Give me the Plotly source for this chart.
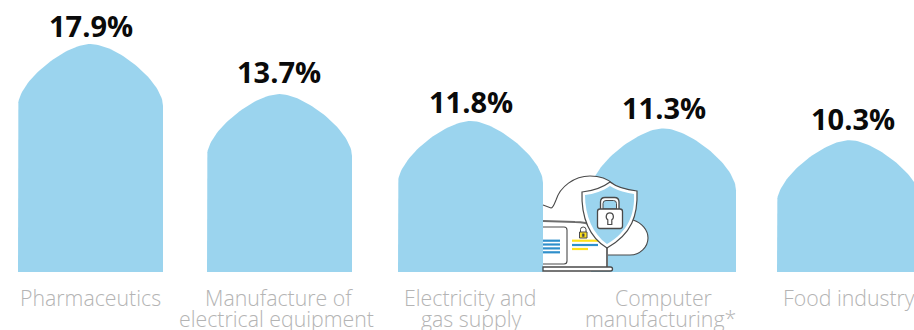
import numpy as np
import plotly.graph_objects as go

# --- data ---
label_line1 = ["Pharmaceutics", "Manufacture of", "Electricity and", "Computer", "Food industry"]
label_line2 = ["", "electrical equipment", "gas supply", "manufacturing*", ""]
shares = [17.9, 13.7, 11.8, 11.3, 10.3]
bar_heights = [17.81, 13.9, 11.8, 11.22, 10.3]   # drawn height of each dome, as read

# --- layout constants (pixels on the 914x330 page) ---
W, H = 914, 330
BASE_PX = 272
PX_PER_UNIT = 12.8
BAR_W = 145
bar_left = [18, 207, 398, 591, 777]
value_x = [91, 279, 471, 664, 853]
value_y = [25, 71, 101, 107, 118]
label1_x = [90.5, 279, 470, 663.5, 848.5]
label2_x = [90.5, 276.5, 470.5, 660.5, 848.5]
LINE1_Y, LINE2_Y = 297.5, 318.5
DOME_UNITS = 62 / PX_PER_UNIT
BLUE = "#9BD4EE"
INK = "#4a4a4a"
YELLOW = "#FFE11A"
ICON_BLUE = "#2F8FCB"

def dome(left, height):
    """Outline of one bar: straight sides, curved top, in data units."""
    a = BAR_W / 2
    t = np.linspace(0, 1, 40)
    bx = 3 * (1 - t) * t**2 * (a * 0.65) + t**3 * a
    by = 3 * (1 - t)**2 * t * 0.40 + 3 * (1 - t) * t**2 + t**3
    xs = left + bx
    ys = height - DOME_UNITS + by * DOME_UNITS
    x = [left] + list(xs) + list((left + BAR_W - bx)[::-1]) + [left + BAR_W, left]
    y = [0] + list(ys) + list(ys[::-1]) + [0, 0]
    return x, y

fig = go.Figure()
for name, left, h in zip(label_line1, bar_left, bar_heights):
    x, y = dome(left, h)
    fig.add_trace(go.Scatter(x=x, y=y, mode="lines", fill="toself", fillcolor=BLUE,
                             line=dict(width=0, color=BLUE), name=name, hoverinfo="skip",
                             showlegend=False, xaxis="x", yaxis="y"))

# helper trace so the overlay axes exist
fig.add_trace(go.Scatter(x=[0], y=[0], mode="markers", marker=dict(opacity=0, size=1),
                         xaxis="x2", yaxis="y2", showlegend=False, hoverinfo="skip"))

def p(path, fill="rgba(0,0,0,0)", line=INK, width=1.1):
    return dict(type="path", path=path, xref="x2", yref="y2", layer="above",
                fillcolor=fill, line=dict(color=line, width=width))

def rule(x0, x1, y, color, width=2.2):
    return dict(type="line", x0=x0, x1=x1, y0=y, y1=y, xref="x2", yref="y2", layer="above",
                line=dict(color=color, width=width))

shapes = [
    # cloud
    p("M543,205 L551,208 C553,208 554,205 556,200 C560,187 574,176 590,176 "
      "C600,176 608,179 613,184 L633,220 C642,223 648,230 648,238 C648,247 640,255 630,255 "
      "L607,255 L607,268 L543,268 Z", fill="white", line="rgba(0,0,0,0)", width=0),
    p("M543,205 L551,208 C553,208 554,205 556,200 C560,187 574,176 590,176 "
      "C600,176 608,179 613,184", fill="rgba(0,0,0,0)"),
    p("M633,220 C642,223 648,230 648,238 C648,247 640,255 630,255 L607,255"),
    # laptop lid
    p("M543,221 L575,222 C585,222 590,224 594,226", line="#6e6e6e", width=2),
    p("M543,227 L564,227 Q567,227 567,230 L567,261 Q567,264 564,264 L543,264", fill="white"),
    rule(543, 560, 240.7, ICON_BLUE), rule(543, 560, 244.5, ICON_BLUE),
    rule(543, 560, 248.4, ICON_BLUE), rule(543, 560, 252.3, ICON_BLUE),
    rule(572, 598, 240.7, YELLOW), rule(572, 598, 245, ICON_BLUE), rule(572, 588, 249, YELLOW),
    # small padlock
    p("M580.5,232 L580.5,229.5 Q580.5,227 583.2,227 Q586,227 586,229.5 L586,232", width=1),
    p("M579.5,232 L587,232 L587,238 L579.5,238 Z", fill=YELLOW, width=1),
    p("M582.3,233.8 L584.2,233.8 L584.2,236.5 L582.3,236.5 Z", fill=INK, width=0.5),
    # laptop hinge and base
    p("M607,246 L607,267", line="#6e6e6e", width=2),
    p("M543,267 L610.5,267 Q612.5,267 612.5,269 Q612.5,271 610.5,271 L543,271 Z", fill="white", width=1.3),
    # shield
    p("M610,182 C618,188 628,190 637,191 C638,215 632,234 607,248 C590,238 581,218 582,192 "
      "C592,191 602,188 610,182 Z", fill="white", width=1.2),
    p("M610,186 C618,191 627,193 634,194 C635,214 628,232 607,244 C593,234 585,216 585,195 "
      "C594,194 603,191 610,186 Z", fill=BLUE, line="rgba(0,0,0,0)", width=0),
    # big padlock
    p("M600.5,209 L600.5,202 Q600.5,197.5 605,197.5 L614.5,197.5 Q619,197.5 619,202 L619,209", fill="white", width=1.3),
    p("M603,209 L603,203.5 Q603,200.5 606,200.5 L613.5,200.5 Q616.5,200.5 616.5,203.5 L616.5,209 Z", fill=BLUE, width=1),
    p("M600,209 L620,209 Q622.5,209 622.5,211.5 L622.5,226 Q622.5,228.5 620,228.5 L600,228.5 "
      "Q597.5,228.5 597.5,226 L597.5,211.5 Q597.5,209 600,209 Z", fill="white", width=1.3),
    p("M607.8,219.8 C605.2,218 605.8,212.8 609.8,212.8 C613.8,212.8 614.4,218 611.8,219.8 "
      "L611.8,224.5 L607.8,224.5 Z", fill="white", width=1.2),
]

annotations = []
for v, x, y in zip(shares, value_x, value_y):
    annotations.append(dict(text=f"<b>{v}%</b>", x=x, y=y, xref="x2", yref="y2", showarrow=False,
                            xanchor="center", yanchor="middle",
                            font=dict(family="Open Sans", size=29, color="#0a0a0a")))
for a, b, x1, x2 in zip(label_line1, label_line2, label1_x, label2_x):
    for text, x, y in ((a, x1, LINE1_Y), (b, x2, LINE2_Y)):
        if text:
            annotations.append(dict(text=text, x=x, y=y, xref="x2", yref="y2", showarrow=False,
                                    xanchor="center", yanchor="middle",
                                    font=dict(family="Open Sans", size=21.3, color="#b4b4b4", weight=300)))

hidden = dict(visible=False, showgrid=False, zeroline=False, fixedrange=True)
fig.update_layout(
    width=W, height=H, margin=dict(l=0, r=0, t=0, b=0),
    paper_bgcolor="white", plot_bgcolor="white", showlegend=False,
    xaxis=dict(range=[0, W], **hidden),
    yaxis=dict(range=[-(H - BASE_PX) / PX_PER_UNIT, BASE_PX / PX_PER_UNIT], **hidden),
    xaxis2=dict(range=[0, W], overlaying="x", **hidden),
    yaxis2=dict(range=[H, 0], overlaying="y", **hidden),
    shapes=shapes, annotations=annotations,
)
fig.write_html("out.html", config={"displayModeBar": False},
               post_script="document.body.style.margin='0';document.body.style.overflow='hidden';")
